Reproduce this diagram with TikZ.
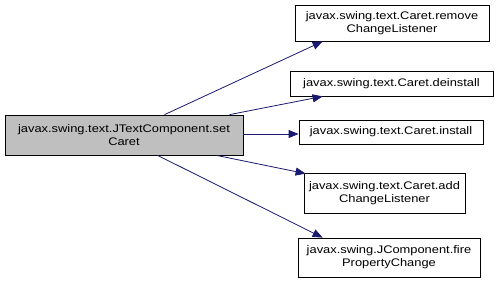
\documentclass[tikz,border=0pt]{standalone}
\usepackage{fontspec}
\setmainfont{Liberation Sans}[FakeStretch=1.17]
\usetikzlibrary{arrows.meta,calc}
\definecolor{edgeblue}{HTML}{191970}
\definecolor{mainfill}{HTML}{BFBFBF}
\begin{document}
\begin{tikzpicture}[x=1pt,y=-1pt,
  fn/.style={draw=black, line width=0.8pt, fill=white, inner sep=0pt, align=center,
    font=\fontsize{11}{13}\selectfont},
  call/.style={draw=edgeblue, line width=0.8pt, -{Triangle[length=10pt,width=8pt]}}]
\useasboundingbox (0,0) rectangle (497,285);
% caller
\node[fn, fill=mainfill, minimum width=238pt, minimum height=40pt] (m) at (124,135)
  {javax.swing.text.JTextComponent.set\\Caret};
% callees
\node[fn, minimum width=194pt, minimum height=36pt] (a) at (392,23)
  {javax.swing.text.Caret.remove\\ChangeListener};
\node[fn, minimum width=203pt, minimum height=25pt] (b) at (391.5,83.5)
  {javax.swing.text.Caret.deinstall};
\node[fn, minimum width=184pt, minimum height=24pt] (c) at (391,132)
  {javax.swing.text.Caret.install};
\node[fn, minimum width=161pt, minimum height=40pt] (d) at (384.5,193)
  {javax.swing.text.Caret.add\\ChangeListener};
\node[fn, minimum width=182pt, minimum height=39pt] (e) at (389,257.5)
  {javax.swing.JComponent.fire\\PropertyChange};
% calls
\draw[call] ($(m.north west)+(160,0)$) -- ($(a.south west)+(28,0)$);
\draw[call] ($(m.north west)+(225,0)$) -- ($(b.south west)+(33,0)$);
\draw[call] ($(m.east)+(0,-1)$) -- (c.west|-{$(m.east)+(0,-1)$});
\draw[call] ($(m.south west)+(212,0)$) -- ($(d.north west)+(2,1)$);
\draw[call] ($(m.south west)+(153,0)$) -- ($(e.north west)+(25,0)$);
\end{tikzpicture}
\end{document}
